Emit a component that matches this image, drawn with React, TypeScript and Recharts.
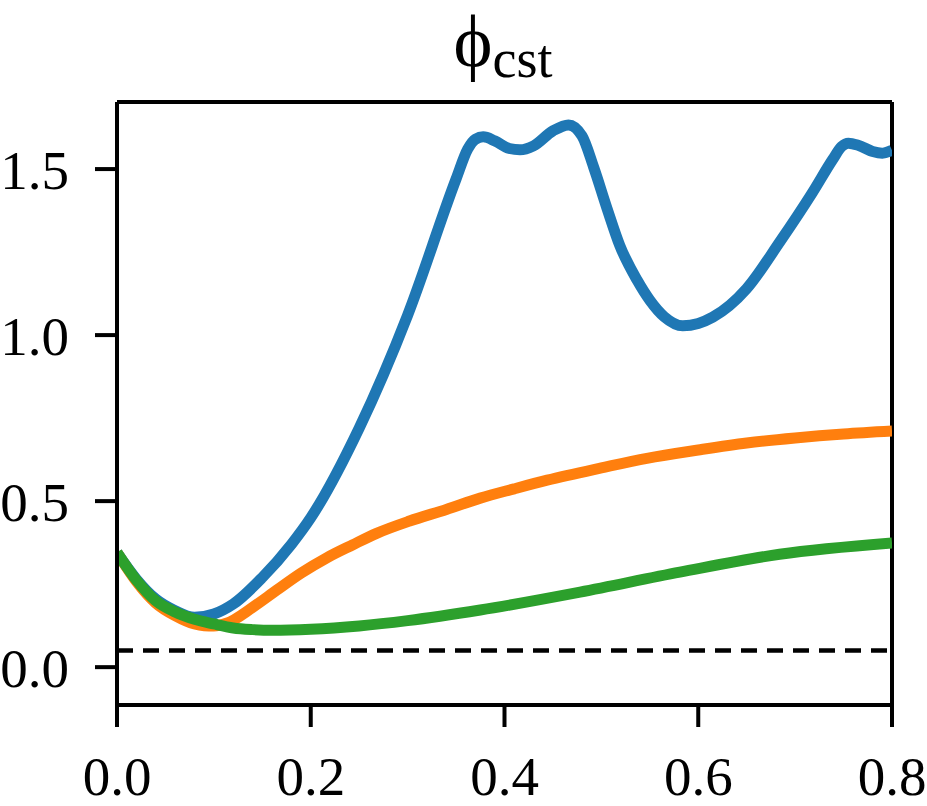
import { LineChart, Line, XAxis, YAxis, ReferenceLine } from "recharts";

// sampled from the reference figure
const blueX = [0, 0.02, 0.04, 0.06, 0.08, 0.1, 0.12, 0.15, 0.18, 0.2, 0.25, 0.3, 0.35, 0.362, 0.37, 0.378, 0.39, 0.405, 0.416, 0.43, 0.45, 0.466, 0.48, 0.492, 0.506, 0.519, 0.537, 0.55, 0.565, 0.584, 0.6, 0.615, 0.65, 0.684, 0.718, 0.739, 0.748, 0.755, 0.765, 0.78, 0.79, 0.8];
const blueY = [0.345, 0.265, 0.205, 0.17, 0.15, 0.16, 0.19, 0.27, 0.37, 0.45, 0.72, 1.06, 1.47, 1.56, 1.59, 1.597, 1.585, 1.562, 1.558, 1.57, 1.615, 1.633, 1.6, 1.506, 1.38, 1.27, 1.165, 1.105, 1.055, 1.028, 1.035, 1.054, 1.14, 1.28, 1.43, 1.53, 1.568, 1.578, 1.572, 1.553, 1.548, 1.557];

const orangeX = [0, 0.02, 0.04, 0.06, 0.08, 0.09, 0.1, 0.113, 0.14, 0.165, 0.19, 0.217, 0.243, 0.268, 0.302, 0.34, 0.375, 0.41, 0.444, 0.5, 0.547, 0.6, 0.65, 0.7, 0.75, 0.8];
const orangeY = [0.345, 0.258, 0.193, 0.155, 0.13, 0.125, 0.124, 0.132, 0.18, 0.232, 0.283, 0.33, 0.368, 0.403, 0.44, 0.475, 0.509, 0.537, 0.563, 0.6, 0.629, 0.654, 0.675, 0.69, 0.702, 0.711];

const greenX = [0, 0.02, 0.04, 0.06, 0.08, 0.1, 0.12, 0.14, 0.16, 0.2, 0.25, 0.3, 0.375, 0.478, 0.581, 0.684, 0.8];
const greenY = [0.345, 0.262, 0.2, 0.166, 0.144, 0.13, 0.118, 0.113, 0.111, 0.114, 0.124, 0.14, 0.172, 0.226, 0.286, 0.34, 0.374];

const xTicks = [0, 0.2, 0.4, 0.6, 0.8];
const yTicks = [0, 0.5, 1.0, 1.5];
const threshold = 0.05;

const toRows = (xs: number[], ys: number[]) => xs.map((x, i) => ({ x, y: ys[i] }));

const font = "'Liberation Serif', 'Times New Roman', serif";
const tickStyle = { fontSize: 55, fill: "#000", fontFamily: font };

export default function App() {
  return (
    <div style={{ position: "absolute", left: 0, top: 0, width: 927, height: 806, background: "#fff" }}>
      <LineChart width={927} height={806} margin={{ top: 102, right: 35, left: 17, bottom: 11 }}>
        <XAxis
          type="number"
          dataKey="x"
          domain={[0, 0.8]}
          ticks={xTicks}
          allowDataOverflow
          height={90}
          tick={tickStyle}
          tickSize={22}
          tickMargin={29}
          tickLine={{ stroke: "#000", strokeWidth: 4 }}
          axisLine={{ stroke: "#000", strokeWidth: 4 }}
          tickFormatter={(v: number) => v.toFixed(1)}
        />
        <YAxis
          type="number"
          domain={[-0.114, 1.702]}
          ticks={yTicks}
          allowDataOverflow
          width={100}
          tick={tickStyle}
          tickSize={22}
          tickMargin={26}
          tickLine={{ stroke: "#000", strokeWidth: 4 }}
          axisLine={{ stroke: "#000", strokeWidth: 4 }}
          tickFormatter={(v: number) => v.toFixed(1)}
        />
        <ReferenceLine y={1.702} stroke="#000" strokeWidth={4} />
        <ReferenceLine x={0.8} stroke="#000" strokeWidth={4} />
        <ReferenceLine y={threshold} stroke="#000" strokeWidth={4.5} strokeDasharray="16 10" />
        <Line data={toRows(blueX, blueY)} dataKey="y" type="monotone" stroke="#1f77b4" strokeWidth={11} dot={false} isAnimationActive={false} />
        <Line data={toRows(orangeX, orangeY)} dataKey="y" type="monotone" stroke="#ff7f0e" strokeWidth={11} dot={false} isAnimationActive={false} />
        <Line data={toRows(greenX, greenY)} dataKey="y" type="monotone" stroke="#2ca02c" strokeWidth={11} dot={false} isAnimationActive={false} />
      </LineChart>
      <svg width={927} height={100} style={{ position: "absolute", left: 0, top: 0 }}>
        <text x={503} y={66} textAnchor="middle" style={{ fontFamily: font, fontSize: 74 }} fill="#000">
          ϕ<tspan style={{ fontSize: 54 }} dy={11}>cst</tspan>
        </text>
      </svg>
    </div>
  );
}
